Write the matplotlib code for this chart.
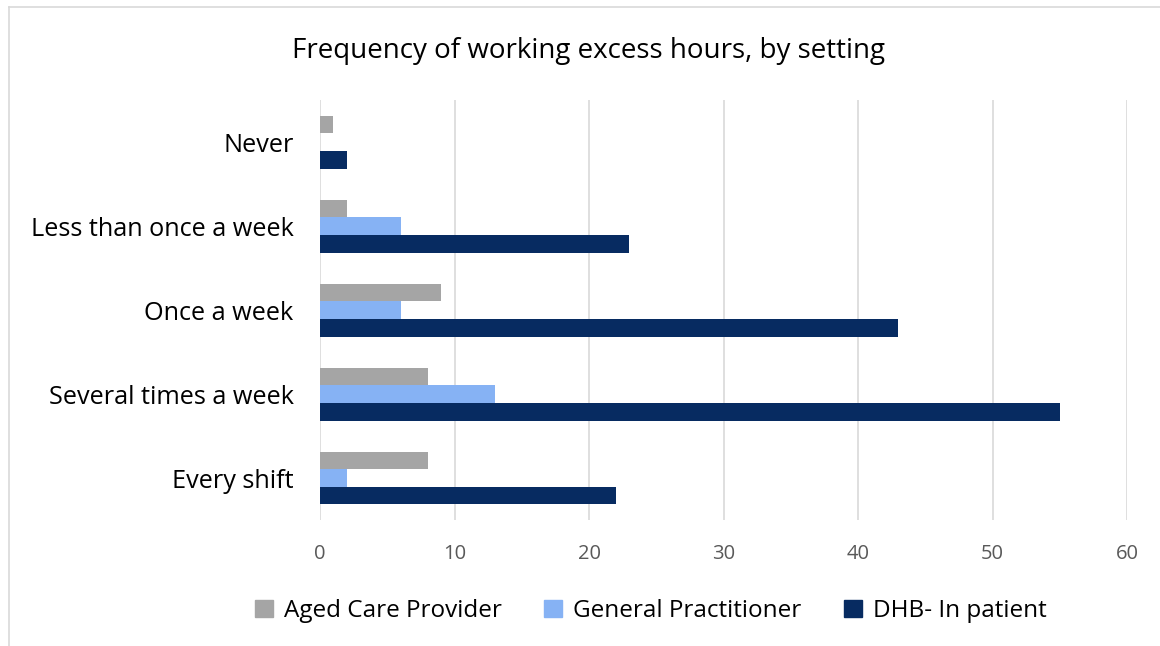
import matplotlib.pyplot as plt
from matplotlib.lines import Line2D
import numpy as np

plt.rcParams['font.family'] = ['Open Sans', 'DejaVu Sans']

# Dane
categories = ['Never', 'Less than once a week', 'Once a week', 'Several times a week', 'Every shift']
aged_care = [1, 2, 9, 8, 8]
general_practitioner = [0, 6, 6, 13, 2]
dhb_inpatient = [2, 23, 43, 55, 22]
series_names = ['Aged Care Provider', 'General Practitioner', 'DHB- In patient']
colors = ['#a5a5a5', '#86b2f4', '#072b61']

fig = plt.figure(figsize=(11.6, 6.46), dpi=100)
ax = fig.add_axes([0.2759, 0.195, 0.6957, 0.650])

# Ramka wykresu (przycięta z prawej i z dołu)
fig.add_artist(Line2D([9 / 1160, 1.0], [1 - 7 / 646] * 2, color='#d9d9d9', lw=1.2))
fig.add_artist(Line2D([9 / 1160] * 2, [0.0, 1 - 7 / 646], color='#d9d9d9', lw=1.2))

y = np.arange(len(categories))
h = 0.21
for i, (vals, name, c) in enumerate(zip([aged_care, general_practitioner, dhb_inpatient], series_names, colors)):
    ax.barh(y + (i - 1) * h, vals, height=h, color=c, label=name, zorder=3)

ax.set_ylim(len(categories) - 0.5, -0.5)
ax.set_xlim(0, 60)
ax.set_xticks(range(0, 61, 10))
ax.set_yticks(y)
ax.set_yticklabels(categories, fontsize=18.2, color='#000000')
ax.tick_params(axis='x', labelsize=14.5, colors='#595959', length=0, pad=17)
ax.tick_params(axis='y', length=0, pad=19)
ax.grid(axis='x', color='#d9d9d9', lw=1.2, zorder=0)
for s in ax.spines.values():
    s.set_visible(False)

fig.text(0.507, 1 - 51 / 646, 'Frequency of working excess hours, by setting', ha='center', va='center', fontsize=20)

handles = [plt.Rectangle((0, 0), 1, 1, color=c) for c in colors]
fig.legend(handles, series_names, loc='center', bbox_to_anchor=(0.561, 1 - 611 / 646), ncol=3, frameon=False,
           fontsize=17.5, handlelength=0.75, handleheight=0.75, handletextpad=0.45, columnspacing=1.75)

fig.savefig('out.png', dpi=100)
